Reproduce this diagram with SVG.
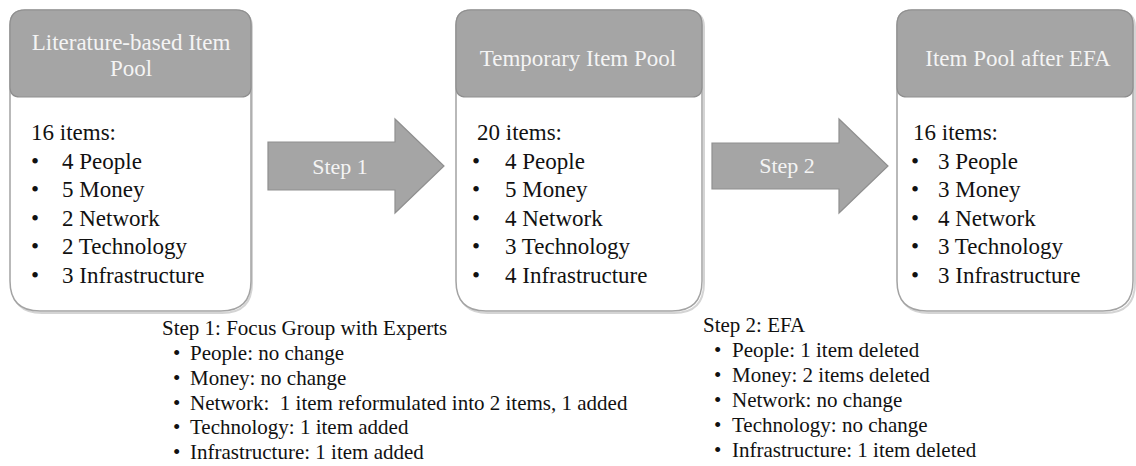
<svg xmlns="http://www.w3.org/2000/svg" width="1136" height="466" viewBox="0 0 1136 466">
<defs>
<style>
.box{fill:#ffffff;stroke:#a3a3a3;stroke-width:1.5}
.shadow{fill:none;stroke:#d4d4d4;stroke-width:2}
.hdr{fill:#a5a5a5;stroke:#8f8f8f;stroke-width:1.2}
.ht{font-family:"Liberation Serif","Times New Roman",serif;font-size:23px;fill:#f4f4f4;text-anchor:middle}
.bt{font-family:"Liberation Serif","Times New Roman",serif;font-size:23px;fill:#111111}
.arrow{fill:#a5a5a5;stroke:#8f8f8f;stroke-width:1.2}
.st{font-family:"Liberation Serif","Times New Roman",serif;font-size:22px;fill:#f4f4f4;text-anchor:middle}
.nt{font-family:"Liberation Serif","Times New Roman",serif;font-size:21px;fill:#111111}
</style>
</defs>

<g id="node-literature">
<path class="shadow" d="M12,27 Q12,12 27,12 L237,12 Q252,12 252,27 L252,283 Q252,313 222,313 L42,313 Q12,313 12,283 Z"/>
<path class="box" d="M10,25 Q10,10 25,10 L236,10 Q251,10 251,25 L251,281 Q251,311 221,311 L40,311 Q10,311 10,281 Z"/>
<path class="hdr" d="M10,25 Q10,10 25,10 L236,10 Q251,10 251,25 L251,87 Q251,97 241,97 L20,97 Q10,97 10,87 Z"/>
<text class="ht" x="131" y="50">Literature-based Item</text>
<text class="ht" x="131" y="76">Pool</text>
<text class="bt" x="31" y="140">16 items:</text>
<text class="bt" x="31" y="169">•</text><text class="bt" x="62" y="169">4 People</text>
<text class="bt" x="31" y="197">•</text><text class="bt" x="62" y="197">5 Money</text>
<text class="bt" x="31" y="226">•</text><text class="bt" x="62" y="226">2 Network</text>
<text class="bt" x="31" y="254">•</text><text class="bt" x="62" y="254">2 Technology</text>
<text class="bt" x="31" y="283">•</text><text class="bt" x="62" y="283">3 Infrastructure</text>
</g>

<g id="node-temporary">
<path class="shadow" d="M458,27 Q458,12 473,12 L689,12 Q704,12 704,27 L704,283 Q704,313 674,313 L488,313 Q458,313 458,283 Z"/>
<path class="box" d="M456,25 Q456,10 471,10 L687,10 Q702,10 702,25 L702,281 Q702,311 672,311 L486,311 Q456,311 456,281 Z"/>
<path class="hdr" d="M456,25 Q456,10 471,10 L687,10 Q702,10 702,25 L702,87 Q702,97 692,97 L466,97 Q456,97 456,87 Z"/>
<text class="ht" x="578" y="66">Temporary Item Pool</text>
<text class="bt" x="477" y="140">20 items:</text>
<text class="bt" x="472" y="169">•</text><text class="bt" x="505" y="169">4 People</text>
<text class="bt" x="472" y="197">•</text><text class="bt" x="505" y="197">5 Money</text>
<text class="bt" x="472" y="226">•</text><text class="bt" x="505" y="226">4 Network</text>
<text class="bt" x="472" y="254">•</text><text class="bt" x="505" y="254">3 Technology</text>
<text class="bt" x="472" y="283">•</text><text class="bt" x="505" y="283">4 Infrastructure</text>
</g>

<g id="node-efa">
<path class="shadow" d="M899,27 Q899,12 914,12 L1120,12 Q1135,12 1135,27 L1135,283 Q1135,313 1105,313 L929,313 Q899,313 899,283 Z"/>
<path class="box" d="M897,25 Q897,10 912,10 L1118,10 Q1133,10 1133,25 L1133,281 Q1133,311 1103,311 L927,311 Q897,311 897,281 Z"/>
<path class="hdr" d="M897,25 Q897,10 912,10 L1118,10 Q1133,10 1133,25 L1133,87 Q1133,97 1123,97 L907,97 Q897,97 897,87 Z"/>
<text class="ht" x="1018" y="66">Item Pool after EFA</text>
<text class="bt" x="913" y="140">16 items:</text>
<text class="bt" x="911" y="169">•</text><text class="bt" x="938" y="169">3 People</text>
<text class="bt" x="911" y="197">•</text><text class="bt" x="938" y="197">3 Money</text>
<text class="bt" x="911" y="226">•</text><text class="bt" x="938" y="226">4 Network</text>
<text class="bt" x="911" y="254">•</text><text class="bt" x="938" y="254">3 Technology</text>
<text class="bt" x="911" y="283">•</text><text class="bt" x="938" y="283">3 Infrastructure</text>
</g>

<g id="connectors">
<g id="step1-arrow">
<polygon class="arrow" points="268,142 395,142 395,119 444,166 395,213 395,190 268,190"/>
<text class="st" x="340" y="174">Step 1</text>
</g>
<g id="step2-arrow">
<polygon class="arrow" points="712,143 839,143 839,119 888,166 839,213 839,189 712,189"/>
<text class="st" x="787" y="173">Step 2</text>
</g>
</g>

<g id="note-step1">
<text class="nt" x="162" y="335">Step 1: Focus Group with Experts</text>
<text class="nt" x="173" y="360">•</text><text class="nt" x="190" y="360">People: no change</text>
<text class="nt" x="173" y="385">•</text><text class="nt" x="190" y="385">Money: no change</text>
<text class="nt" x="173" y="410">•</text><text class="nt" x="190" y="410" xml:space="preserve">Network:  1 item reformulated into 2 items, 1 added</text>
<text class="nt" x="173" y="434">•</text><text class="nt" x="190" y="434">Technology: 1 item added</text>
<text class="nt" x="173" y="459">•</text><text class="nt" x="190" y="459">Infrastructure: 1 item added</text>
</g>

<g id="note-step2">
<text class="nt" x="703" y="332">Step 2: EFA</text>
<text class="nt" x="714" y="357">•</text><text class="nt" x="732" y="357">People: 1 item deleted</text>
<text class="nt" x="714" y="382">•</text><text class="nt" x="732" y="382">Money: 2 items deleted</text>
<text class="nt" x="714" y="407">•</text><text class="nt" x="732" y="407">Network: no change</text>
<text class="nt" x="714" y="432">•</text><text class="nt" x="732" y="432">Technology: no change</text>
<text class="nt" x="714" y="457">•</text><text class="nt" x="732" y="457">Infrastructure: 1 item deleted</text>
</g>
</svg>
